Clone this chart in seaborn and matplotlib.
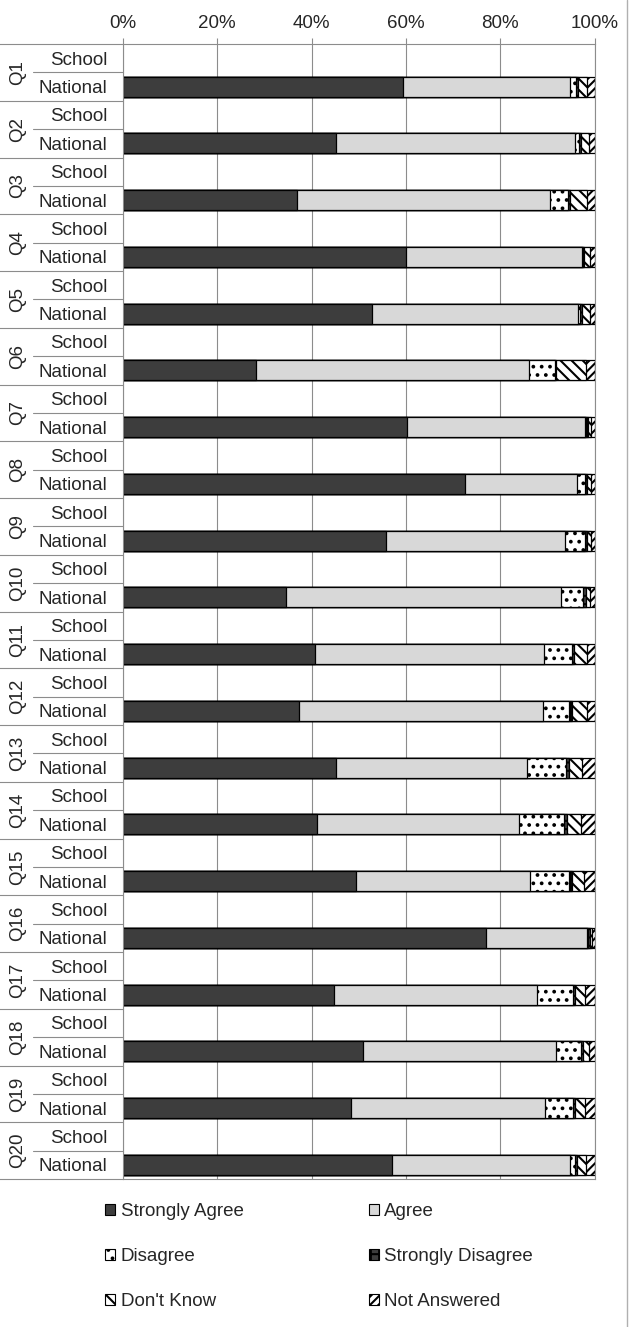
import numpy as np
import pandas as pd
import matplotlib
matplotlib.use("Agg")
import matplotlib.pyplot as plt
import matplotlib.transforms as mtransforms
from matplotlib.patches import Patch
from matplotlib.lines import Line2D
import seaborn as sns

sns.set_theme(style="white")
plt.rcParams["font.family"] = ["Liberation Sans", "DejaVu Sans"]
plt.rcParams["hatch.linewidth"] = 1.5

# ---- data -------------------------------------------------------------
questions = [f"Q{i}" for i in range(1, 21)]
groups = ["School", "National"]
segments = ["Strongly Agree", "Agree", "Disagree",
            "Strongly Disagree", "Don't Know", "Not Answered"]
tick_values = [0, 20, 40, 60, 80, 100]
tick_labels = ["0%", "20%", "40%", "60%", "80%", "100%"]

# National responses (% of respondents); school rows have no responses yet
strongly_agree = [59.3, 45.2, 36.9, 60.1, 52.9, 28.2, 60.3, 72.5, 55.8, 34.6,
                  40.8, 37.4, 45.2, 41.1, 49.5, 76.9, 44.7, 51.0, 48.4, 57.0]
agree = [35.5, 50.6, 53.7, 37.1, 43.6, 57.9, 37.6, 23.8, 38.0, 58.3,
         48.4, 51.7, 40.5, 42.8, 36.7, 21.5, 43.1, 40.7, 41.0, 37.7]
disagree = [1.3, 0.9, 3.8, 0.3, 0.4, 5.4, 0.3, 1.6, 4.1, 4.6,
            5.9, 5.5, 8.3, 9.6, 8.4, 0.2, 7.6, 5.3, 6.0, 1.1]
strongly_disagree = [0.3, 0.3, 0.4, 0.3, 0.3, 0.4, 0.4, 0.5, 0.5, 0.6,
                     0.5, 0.5, 0.5, 0.6, 0.5, 0.5, 0.5, 0.5, 0.5, 0.4]
dont_know = [2.0, 1.8, 3.5, 1.2, 1.7, 6.3, 0.6, 0.8, 0.8, 1.0,
             2.8, 3.3, 2.8, 3.0, 2.6, 0.4, 2.1, 1.2, 2.1, 2.0]
not_answered = [1.6, 1.2, 1.7, 1.0, 1.1, 1.8, 0.8, 0.8, 0.8, 0.9,
                1.6, 1.6, 2.7, 2.9, 2.3, 0.5, 2.0, 1.3, 2.0, 1.8]

series = [strongly_agree, agree, disagree, strongly_disagree, dont_know, not_answered]

# ---- styling ----------------------------------------------------------
fills = ["#3d3d3d", "#d8d8d8", "#ffffff", "#3d3d3d", "#ffffff", "#ffffff"]
hatches = [None, None, "..", "++", "\\\\\\", "////"]
FS = 13.5
GRID = "#8c8c8c"

rows = [f"{q} {g}" for q in questions for g in groups]
national_rows = [f"{q} National" for q in questions]

fig = plt.figure(figsize=(6.29, 13.27), dpi=100)
fig.patch.set_facecolor("white")
ax = fig.add_axes([0.1951, 0.1115, 0.7504, 0.8553])

# stacked bars: draw cumulative totals from the outermost segment inwards
cum = np.cumsum(np.array(series, dtype=float), axis=0)
for idx in reversed(range(len(segments))):
    df = pd.DataFrame({"row": national_rows, "end": cum[idx]})
    sns.barplot(data=df, x="end", y="row", order=rows, orient="h",
                color=fills[idx], saturation=1, width=0.7, errorbar=None,
                edgecolor="black", linewidth=0.9, ax=ax)
    for p in ax.containers[-1]:
        p.set_facecolor(fills[idx])
        if hatches[idx]:
            p.set_hatch(hatches[idx])

# axes and grid
ax.set_xlim(0, 100)
ax.set_ylim(len(rows) - 0.5, -0.5)
ax.xaxis.tick_top()
ax.set_xticks(tick_values)
ax.set_xticklabels(tick_labels, fontsize=FS)
ax.tick_params(axis="x", top=True, length=4, width=0.8, color=GRID, pad=5)
ax.set_xlabel("")
ax.set_ylabel("")
ax.grid(axis="x", color=GRID, linewidth=0.8)
ax.grid(axis="y", visible=False)
ax.set_axisbelow(True)

ax.set_yticks(range(len(rows)))
ax.set_yticklabels(groups * len(questions), fontsize=FS)
ax.tick_params(axis="y", left=False, length=0, pad=11)

for s in ax.spines.values():
    s.set_visible(True)
    s.set_color(GRID)
    s.set_linewidth(0.8)

# table rules and question labels in the label column
trans = mtransforms.blended_transform_factory(ax.transAxes, ax.transData)
for k in range(len(questions) + 1):
    ax.add_line(Line2D([-0.262, 0], [2 * k - 0.5] * 2, transform=trans,
                       color=GRID, lw=0.8, clip_on=False))
for k, q in enumerate(questions):
    ax.add_line(Line2D([-0.19, 0], [2 * k + 0.5] * 2, transform=trans,
                       color=GRID, lw=0.8, clip_on=False))
    ax.text(-0.222, 2 * k + 0.5, q, rotation=90, ha="center", va="center",
            fontsize=FS, transform=trans)

# page edge on the right
fig.add_artist(Line2D([627 / 629, 627 / 629], [0, 1], transform=fig.transFigure,
                      color="#b0b0b0", lw=1.0))

# legend (column-major order gives the two-column layout)
handles = [Patch(facecolor=fills[i], edgecolor="black", hatch=hatches[i],
                 linewidth=0.8, label=segments[i]) for i in range(len(segments))]
order = [0, 2, 4, 1, 3, 5]
fig.legend(handles=[handles[i] for i in order], ncol=2, loc="upper left",
           bbox_to_anchor=(105 / 629, 1 - 1203 / 1327), frameon=False,
           fontsize=FS, handlelength=0.55, handleheight=0.55, handletextpad=0.3,
           columnspacing=6.65, labelspacing=1.5, borderpad=0, borderaxespad=0)

fig.savefig("out.png", dpi=100, facecolor="white")
